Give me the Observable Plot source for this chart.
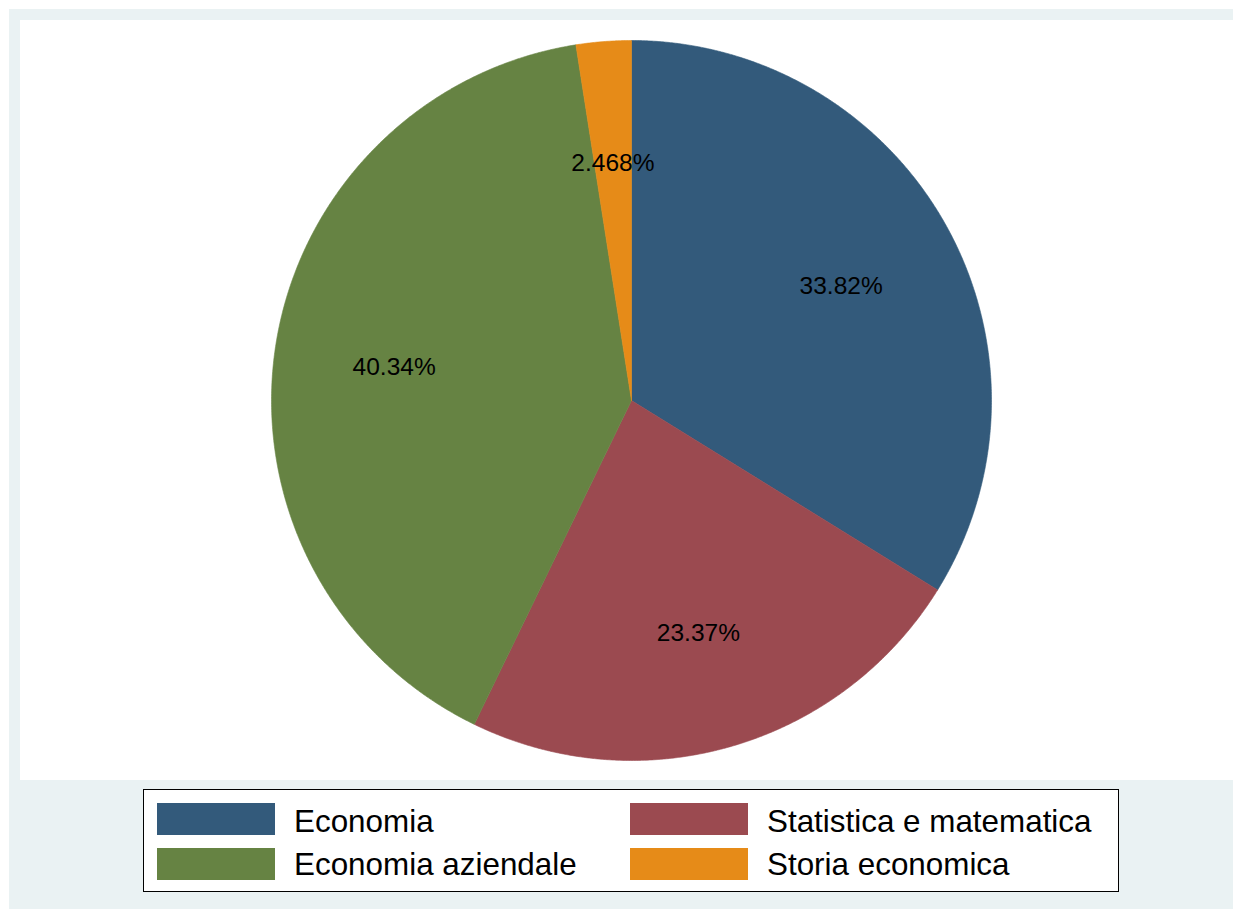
<!DOCTYPE html>
<html>
<head>
<meta charset="utf-8">
<script src="https://cdn.jsdelivr.net/npm/d3@7"></script>
<script src="https://cdn.jsdelivr.net/npm/@observablehq/plot@0.6"></script>
<style>
  html, body { margin: 0; padding: 0; background: #ffffff; }
  body { width: 1233px; height: 909px; position: relative; overflow: hidden; font-family: "Liberation Sans", Arial, sans-serif; }
  #outer { position: absolute; left: 9px; top: 9px; width: 1224px; height: 900px; background: #EAF2F3; }
  #inner { position: absolute; left: 20px; top: 20px; width: 1213px; height: 760px; background: #ffffff; }
  #legend { position: absolute; left: 143px; top: 789px; width: 974px; height: 101px; border: 1px solid #000; background: #fff; }
  .sw { position: absolute; width: 118px; height: 32px; }
  .lt { position: absolute; font-size: 31.4px; color: #000; line-height: 1; white-space: nowrap; }
</style>
</head>
<body>
<div id="outer"></div>
<div id="inner"></div>
<div id="legend"></div>
<script>
const categories = ["Economia", "Statistica e matematica", "Economia aziendale", "Storia economica"];
const values = [33.82, 23.37, 40.34, 2.468];
const labels = ["33.82%", "23.37%", "40.34%", "2.468%"];
const colors = ["#335A7B", "#9B4A50", "#668343", "#E68B18"];
const legendOrder = ["Economia", "Statistica e matematica", "Economia aziendale", "Storia economica"];

const pie = d3.pie().sort(null).value(d => d.value);
const arcs = pie(categories.map((c, i) => ({cat: c, value: values[i], label: labels[i]})));

// polygon vertices for each slice on the unit circle (angle clockwise from 12 o'clock)
const slicePts = [];
for (const a of arcs) {
  const cat = a.data.cat;
  slicePts.push({cat, x: 0, y: 0});
  const n = Math.max(2, Math.ceil((a.endAngle - a.startAngle) / (Math.PI / 720)));
  for (let k = 0; k <= n; k++) {
    const t = a.startAngle + (a.endAngle - a.startAngle) * k / n;
    slicePts.push({cat, x: Math.sin(t), y: Math.cos(t)});
  }
  slicePts.push({cat, x: 0, y: 0});
}
const labelPts = arcs.map(a => {
  const m = (a.startAngle + a.endAngle) / 2;
  return {cat: a.data.cat, label: a.data.label, x: (2 / 3) * Math.sin(m), y: (2 / 3) * Math.cos(m)};
});

const chart = Plot.plot({
  width: 1213,
  height: 760,
  marginLeft: 251,
  marginRight: 242,
  marginTop: 20,
  marginBottom: 20,
  x: {domain: [-1, 1], axis: null},
  y: {domain: [-1, 1], axis: null},
  color: {domain: categories, range: colors},
  style: {background: "transparent", fontFamily: "'Liberation Sans', Arial, sans-serif", overflow: "visible"},
  marks: [
    Plot.line(slicePts, {x: "x", y: "y", z: "cat", fill: "cat", stroke: "cat", strokeWidth: 0.6, curve: "linear"}),
    Plot.text(labelPts, {x: "x", y: "y", text: "label", fontSize: 24.5, dy: 2, fill: "#000"})
  ]
});
chart.style.position = "absolute";
chart.style.left = "0px";
chart.style.top = "0px";
document.getElementById("inner").appendChild(chart);

// legend (HTML) in the outer region
const legend = document.getElementById("legend");
const colOf = c => colors[categories.indexOf(c)];
legendOrder.forEach((c, i) => {
  const col = i % 2, row = Math.floor(i / 2);
  const sw = document.createElement("div");
  sw.className = "sw";
  sw.style.left = (13 + col * 473) + "px";
  sw.style.top = (13 + row * 45) + "px";
  sw.style.background = colOf(c);
  legend.appendChild(sw);
  const t = document.createElement("div");
  t.className = "lt";
  t.textContent = c;
  t.style.left = (150 + col * 473) + "px";
  t.style.top = (16 + row * 43) + "px";
  legend.appendChild(t);
});
</script>
</body>
</html>
